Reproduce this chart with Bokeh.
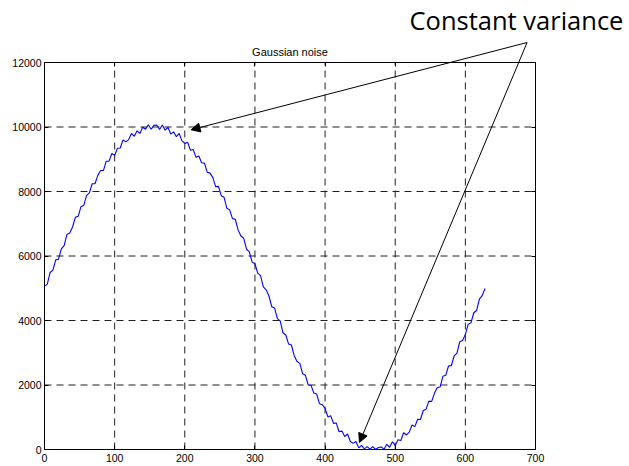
from bokeh.plotting import figure
from bokeh.models import Range1d, Label, Arrow, NormalHead, LinearAxis, FixedTicker
from bokeh.embed import file_html
from bokeh.resources import INLINE

# ---- data ----
x_vals = list(range(0, 628, 4)) + [628]
y_vals = [
    5060, 5130, 5490, 5560, 5880, 5900, 6220, 6320, 6670, 6710,
    6900, 7200, 7230, 7530, 7570, 7880, 7960, 8240, 8240, 8500,
    8650, 8650, 8940, 8940, 9180, 9120, 9340, 9350, 9600, 9540,
    9610, 9800, 9710, 9880, 9800, 9990, 9930, 10070, 9930, 10050,
    10060, 9920, 10060, 9900, 9990, 9780, 9850, 9700, 9800, 9570,
    9490, 9530, 9280, 9300, 9060, 9100, 8890, 8880, 8600, 8570,
    8430, 8150, 8160, 7870, 7820, 7480, 7430, 7160, 7140, 6810,
    6620, 6550, 6210, 6130, 5810, 5760, 5470, 5390, 5040, 4950,
    4760, 4430, 4390, 4060, 3990, 3620, 3550, 3270, 3240, 2910,
    2730, 2670, 2350, 2300, 2000, 1990, 1750, 1720, 1420, 1390,
    1270, 1010, 1050, 810, 820, 550, 570, 400, 480, 250,
    190, 250, 50, 130, 20, 90, 10, 90, 0, 60,
    80, 10, 160, 70, 240, 120, 300, 280, 520, 450,
    540, 760, 710, 940, 930, 1210, 1250, 1500, 1490, 1750,
    1920, 1940, 2270, 2300, 2590, 2600, 2900, 2990, 3340, 3380,
    3570, 3880, 3930, 4240, 4310, 4660, 4770, 4990,
]
x_ticks = [0, 100, 200, 300, 400, 500, 600, 700]
y_ticks = [0, 2000, 4000, 6000, 8000, 10000, 12000]
title_text = "Gaussian noise"
note_text = "Constant variance"

# ---- layout (canvas-wide frame; the axes box sits at fixed data locations) ----
W, H = 629, 466
X0, X1 = -62.73, 834.0
Y0, Y1 = -527.1, 13922.5
arrow_start = (688, 12620)
arrow_ends = [(209, 9913), (449, 217)]

p = figure(width=W, height=H, output_backend="svg", toolbar_location=None,
           x_range=Range1d(X0, X1), y_range=Range1d(Y0, Y1),
           min_border=0, min_border_left=0, min_border_right=0,
           min_border_top=0, min_border_bottom=0,
           x_axis_type=None, y_axis_type=None)
p.background_fill_color = "white"
p.border_fill_color = "white"
p.outline_line_color = None
p.xgrid.visible = False
p.ygrid.visible = False

xmin, xmax = x_ticks[0], x_ticks[-1]
ymin, ymax = y_ticks[0], y_ticks[-1]

# dashed grid from the tick lists
gx = x_ticks[1:-1]
p.segment(x0=gx, y0=[ymin] * len(gx), x1=gx, y1=[ymax] * len(gx),
          line_color="#222222", line_dash="7 5", line_width=1)
gy = y_ticks[1:-1]
p.segment(x0=[xmin] * len(gy), y0=gy, x1=[xmax] * len(gy), y1=gy,
          line_color="#222222", line_dash="7 5", line_width=1)

p.line(x_vals, y_vals, line_color="#0000ff", line_width=1.1)


def style(ax):
    ax.major_tick_in = 4
    ax.major_tick_out = 0
    ax.minor_tick_line_color = None
    ax.axis_line_color = "black"
    ax.axis_line_width = 1
    ax.major_tick_line_color = "black"
    ax.major_label_text_font = "Liberation Sans"
    ax.major_label_text_font_size = "10.5px"
    ax.major_label_text_color = "black"


bottom = LinearAxis(ticker=FixedTicker(ticks=x_ticks), fixed_location=ymin,
                    bounds=(xmin, xmax), major_label_standoff=4)
left = LinearAxis(ticker=FixedTicker(ticks=y_ticks), fixed_location=xmin,
                  bounds=(ymin, ymax), major_label_standoff=3)
top = LinearAxis(ticker=FixedTicker(ticks=x_ticks), fixed_location=ymax,
                 bounds=(xmin, xmax),
                 major_label_overrides={t: "" for t in x_ticks})
right = LinearAxis(ticker=FixedTicker(ticks=y_ticks), fixed_location=xmax,
                   bounds=(ymin, ymax),
                   major_label_overrides={t: "" for t in y_ticks})
for ax in (bottom, left, top, right):
    style(ax)
p.add_layout(bottom, "below")
p.add_layout(left, "left")
p.add_layout(top, "above")
p.add_layout(right, "right")

p.add_layout(Label(x=(xmin + xmax) / 2, y=12341, text=title_text, text_align="center",
                   text_baseline="alphabetic",
                   text_font="Liberation Sans", text_font_size="11px", text_color="black"))

p.add_layout(Label(x=520.4, y=13330, text=note_text, text_align="left",
                   text_baseline="alphabetic",
                   text_font="Open Sans", text_font_size="25.5px", text_color="black"))

for xe, ye in arrow_ends:
    p.add_layout(Arrow(end=NormalHead(size=9, fill_color="black", line_color="black"),
                       x_start=arrow_start[0], y_start=arrow_start[1],
                       x_end=xe, y_end=ye, line_color="black", line_width=1))

open("out.html", "w").write(file_html(p, INLINE))
